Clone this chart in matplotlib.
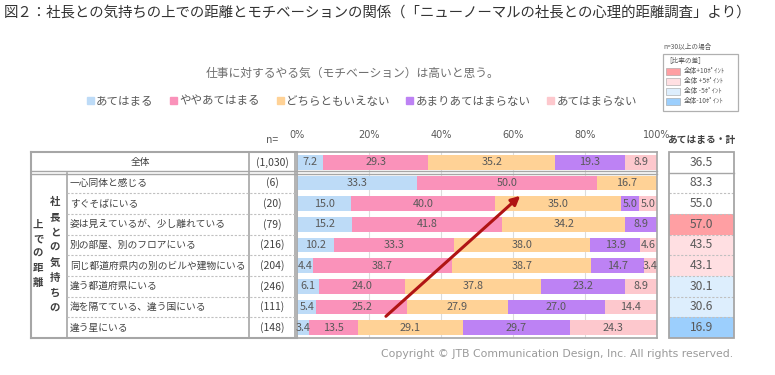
import numpy as np
import matplotlib.pyplot as plt
import matplotlib.transforms as mtransforms
from matplotlib.patches import Rectangle

plt.rcParams['font.family'] = ['Noto Sans CJK JP', 'DejaVu Sans']

# data
title = "図２：社長との気持ちの上での距離とモチベーションの関係（「ニューノーマルの社長との心理的距離調査」より）"
question = "仕事に対するやる気（モチベーション）は高いと思う。"
rows = ["全体", "一心同体と感じる", "すぐそばにいる", "姿は見えているが、少し離れている",
        "別の部屋、別のフロアにいる", "同じ都道府県内の別のビルや建物にいる",
        "違う都道府県にいる", "海を隔てている、違う国にいる", "違う星にいる"]
n_values = [1030, 6, 20, 79, 216, 204, 246, 111, 148]
categories = ["あてはまる", "ややあてはまる", "どちらともいえない", "あまりあてはまらない", "あてはまらない"]
atehamaru = [7.2, 33.3, 15.0, 15.2, 10.2, 4.4, 6.1, 5.4, 3.4]
yaya = [29.3, 50.0, 40.0, 41.8, 33.3, 38.7, 24.0, 25.2, 13.5]
dochira = [35.2, 16.7, 35.0, 34.2, 38.0, 38.7, 37.8, 27.9, 29.1]
amari = [19.3, 0, 5.0, 8.9, 13.9, 14.7, 23.2, 27.0, 29.7]
atehamaranai = [8.9, 0, 5.0, 0, 4.6, 3.4, 8.9, 14.4, 24.3]
group_col1 = "社長との気持ちの"
group_col2 = "上での距離"
diff_labels = ["全体+10ﾎﾟｲﾝﾄ", "全体 +5ﾎﾟｲﾝﾄ", "全体 -5ﾎﾟｲﾝﾄ", "全体-10ﾎﾟｲﾝﾄ"]

colors = ['#bddbf7', '#fa92ba', '#ffd296', '#bd82f4', '#fdc8cd']
diff_colors = ['#ff9fa3', '#ffdfe2', '#ddeefd', '#9ccffd']
txt = '#595959'
line = '#a6a6a6'

series = [atehamaru, yaya, dochira, amari, atehamaranai]
totals = [a + b for a, b in zip(atehamaru, yaya)]

W, H = 775, 375
fig = plt.figure(figsize=(7.75, 3.75), dpi=100)

ax = fig.add_axes([297 / W, 1 - 338 / H, 360 / W, 186 / H], zorder=1)
ov = fig.add_axes([0, 0, 1, 1], zorder=2)
ov.set_xlim(0, W)
ov.set_ylim(H, 0)
ov.axis('off')
ov.patch.set_alpha(0)

y = np.arange(len(rows))
left = np.zeros(len(rows))
for vals, c in zip(series, colors):
    vals = np.array(vals)
    ax.barh(y, vals, left=left, height=0.72, color=c, zorder=2)
    for i, v in enumerate(vals):
        if v > 0:
            ax.text(left[i] + v / 2, i, f"{v:.1f}", ha='center', va='center',
                    fontsize=7.8, color=txt, zorder=3)
    left += vals

ax.set_xlim(0, 100)
ax.set_ylim(len(rows) - 0.5, -0.5)
ax.set_yticks([])
ax.set_xticks(range(0, 101, 20))
ax.set_xticklabels([f"{v}%" for v in range(0, 101, 20)], fontsize=7, color=txt,
                   family='DejaVu Sans')
ax.xaxis.tick_top()
ax.tick_params(axis='x', length=0, pad=9)
ax.grid(axis='x', color='#dcdcdc', lw=0.8, zorder=0)
for s in ax.spines.values():
    s.set_color(line)
    s.set_linewidth(1.2)

ax.annotate("", xy=(62, 1.62), xytext=(24.7, 7.45), annotation_clip=False,
            arrowprops=dict(arrowstyle='-|>', color='#b01414', lw=2.2,
                            mutation_scale=13, shrinkA=0, shrinkB=0), zorder=5)

# table part (x in pixels, y in row units)
bt = mtransforms.blended_transform_factory(ov.transData, ax.transData)
nr = len(rows)
ov.plot([31, 31], [-0.5, nr - 0.5], color=line, lw=1.5, transform=bt)
ov.plot([31, 297], [-0.5, -0.5], color=line, lw=1.5, transform=bt)
ov.plot([31, 297], [nr - 0.5, nr - 0.5], color=line, lw=1.5, transform=bt)
ov.plot([67, 67], [0.5, nr - 0.5], color=line, lw=1.2, transform=bt)
ov.plot([249, 249], [-0.5, nr - 0.5], color=line, lw=1.2, transform=bt)
ov.plot([295, 295], [-0.5, nr - 0.5], color=line, lw=1.2, transform=bt)
for dy in (0.43, 0.55):
    ov.plot([31, 657], [dy, dy], color=line, lw=1.0, transform=bt)
for i in range(1, nr - 1):
    ov.plot([67, 295], [i + 0.5, i + 0.5], color='#c0c0c0', lw=0.8,
            ls=(0, (2, 1.5)), transform=bt)

ov.text(140, 0, rows[0], ha='center', va='center', fontsize=7, color='#404040', transform=bt)
for i in range(1, nr):
    ov.text(70, i, rows[i], ha='left', va='center', fontsize=7, color='#404040', transform=bt)
for i, n in enumerate(n_values):
    ov.text(272, i, f"({n:,})", ha='center', va='center', fontsize=7.5, color='#404040', transform=bt)
ov.text(272, 140, "n=", ha='center', va='center', fontsize=7.5, color=txt)

for k, ch in enumerate(group_col1):
    ov.text(55, 202 + k * 15.2, ch, ha='center', va='center', fontsize=7.5,
            fontweight='bold', color='#404040')
for k, ch in enumerate(group_col2):
    ov.text(38, 225 + k * 14.5, ch, ha='center', va='center', fontsize=7.5,
            fontweight='bold', color='#404040')

# right column
ov.text(701, 140, "あてはまる・計", ha='center', va='center', fontsize=7, fontweight='bold', color='#404040')
base = totals[0]
for i, t in enumerate(totals):
    fc = 'white'
    if i > 0 and n_values[i] >= 30:
        d = t - base
        if d >= 10:
            fc = diff_colors[0]
        elif d >= 5:
            fc = diff_colors[1]
        elif d <= -10:
            fc = diff_colors[3]
        elif d <= -5:
            fc = diff_colors[2]
    ov.add_patch(Rectangle((669, i - 0.5), 65, 1, transform=bt, facecolor=fc,
                           edgecolor='none', zorder=1))
    ov.text(701.5, i, f"{t:.1f}", ha='center', va='center', fontsize=8.7, color=txt,
            transform=bt, zorder=3)
for i in range(1, nr):
    if i == 1:
        ov.plot([669, 734], [0.5, 0.5], color=line, lw=1.0, transform=bt, zorder=2)
    else:
        ov.plot([669, 734], [i - 0.5, i - 0.5], color='#c0c0c0', lw=0.8,
                ls=(0, (2, 1.5)), transform=bt, zorder=2)
ov.add_patch(Rectangle((669, -0.5), 65, nr, transform=bt, facecolor='none',
                       edgecolor=line, lw=1.3, zorder=4))

# small legend top right
ov.text(663, 47, "n=30以上の場合", ha='left', va='center', fontsize=4.8, color=txt)
ov.add_patch(Rectangle((663, 54), 75, 57, facecolor='white', edgecolor='#b0b0b0', lw=0.9))
ov.text(665, 60.5, "［比率の差］", ha='left', va='center', fontsize=4.8, color=txt)
for k, (lab, c) in enumerate(zip(diff_labels, diff_colors)):
    yy = 71 + k * 10
    ov.add_patch(Rectangle((666, yy - 3.5), 14, 7, facecolor=c, edgecolor='#a0a0a0', lw=0.4))
    ov.text(684, yy, lab, ha='left', va='center', fontsize=4.8, color=txt)

# titles
ov.text(4, 13, title, ha='left', va='center', fontsize=10.4, color='#333333')
ov.text(353, 73, question, ha='center', va='center', fontsize=8.5, color='#6e6e6e')

handles = [Rectangle((0, 0), 1, 1, color=c) for c in colors]
fig.legend(handles, categories, loc='center', bbox_to_anchor=(362 / W, 1 - 101 / H),
           ncol=5, frameon=False, fontsize=8.3, handlelength=0.6, handleheight=0.6,
           handletextpad=0.2, columnspacing=1.45, labelcolor='#595959')

ov.text(733, 354, "Copyright © JTB Communication Design, Inc. All rights reserved.",
        ha='right', va='center', fontsize=7.8, color='#9a9a9a', family='DejaVu Sans')

fig.savefig('out.png', dpi=100)
